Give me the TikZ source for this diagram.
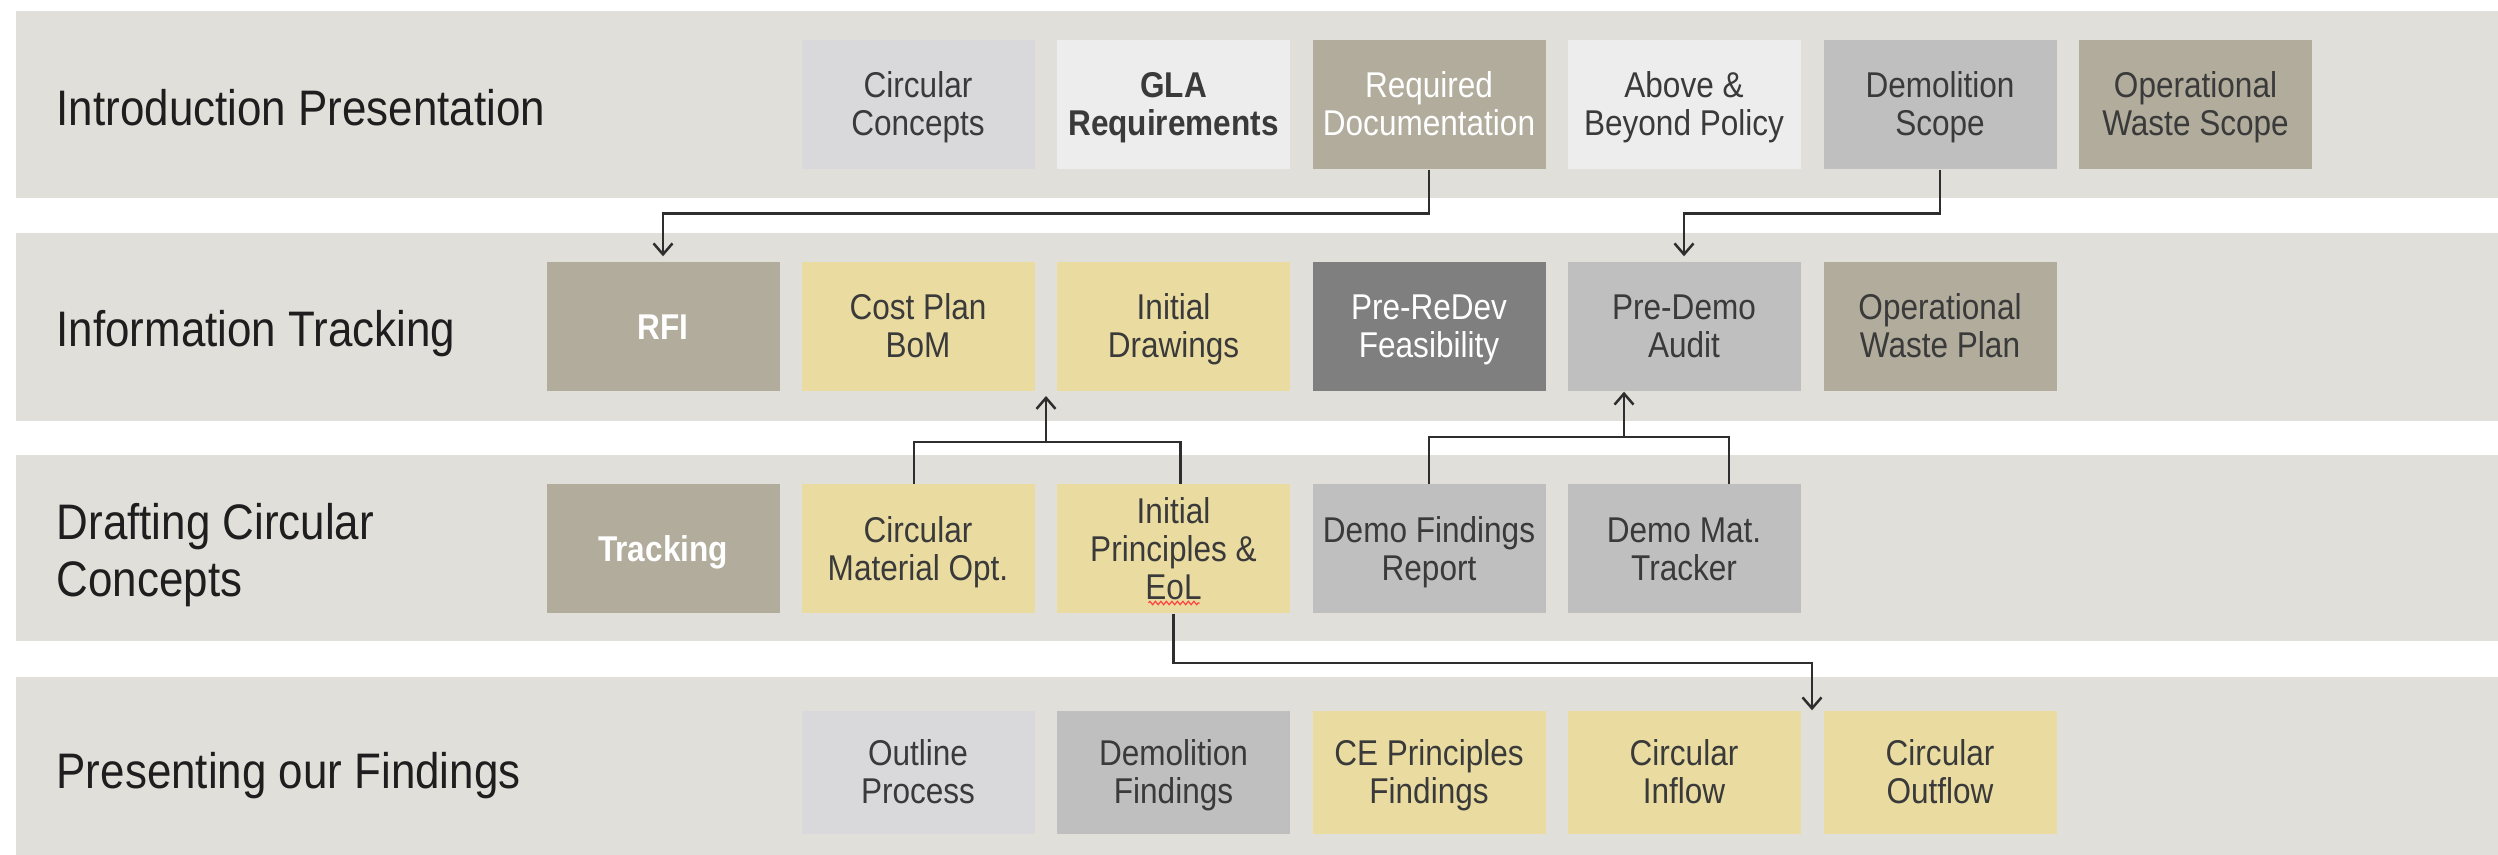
\documentclass[tikz,border=0pt]{standalone}
\usepackage{fontspec}
\setmainfont{Liberation Sans}[FakeStretch=0.88]
\usetikzlibrary{arrows.meta,decorations.pathmorphing,calc}

\definecolor{band}{HTML}{E0DFDA}
\definecolor{pale}{HTML}{D9D9DB}
\definecolor{offwhite}{HTML}{EDEDED}
\definecolor{taupe}{HTML}{B1AC9C}
\definecolor{midgrey}{HTML}{BFBFBF}
\definecolor{darkgrey}{HTML}{7F7F7F}
\definecolor{sand}{HTML}{EADCA1}
\definecolor{ink}{HTML}{3A3A3A}
\definecolor{labelink}{HTML}{1E1E1E}
\definecolor{wire}{HTML}{2E2E2E}

% card text: fixed line pitch; struts on the first and last lines
% centre each block on its capitals
\newcommand\cardfont{\fontsize{10.2pt}{10.8pt}\selectfont\lineskiplimit=-20pt\relax}
\newcommand\fl{\rule{0pt}{9.3pt}}
\newcommand\lowstrut{\rule[-2.2pt]{0pt}{2.2pt}}
\newcommand\singlestrut{\rule[-2.2pt]{0pt}{11.7pt}}

\tikzset{
  cardbase/.style={rectangle, inner sep=0pt, minimum width=23.3mm, minimum height=12.9mm,
    align=center, text=ink, font=\cardfont},
  card/.style={cardbase, execute at end node=\lowstrut},
  tagcard/.style={cardbase, font=\cardfont\bfseries, text=white,
    execute at end node=\singlestrut},
  boldcard/.style={card, font=\cardfont\bfseries},
  lowcard/.style={card, minimum height=12.3mm},
  lighttext/.style={text=white},
  rowlabel/.style={anchor=base west, inner sep=0pt, text=labelink,
    font=\fontsize{14.2pt}{16.2pt}\selectfont},
  wireline/.style={draw=wire, line width=0.25mm},
  arr/.style={wireline, -{Straight Barb[length=1.1mm,width=1.9mm]}},
}

\begin{document}
\begin{tikzpicture}[x=0.1mm, y=-0.1mm]
  \fill[white] (0,0) rectangle (2498,855);
  \useasboundingbox (0,0) rectangle (2498,855);

  % horizontal bands
  \fill[band] (16,11)  rectangle (2498,198);
  \fill[band] (16,233) rectangle (2498,421);
  \fill[band] (16,455) rectangle (2498,641);
  \fill[band] (16,677) rectangle (2498,855);

  % row titles
  \node[rowlabel] (t1) at (56,126) {Introduction Presentation};
  \node[rowlabel] (t2) at (56,347) {Information Tracking};
  \node[rowlabel, anchor=west, align=left] (t3) at (56,555) {Drafting Circular\\Concepts};
  \node[rowlabel] (t4) at (56,789) {Presenting our Findings};

  % row 1
  \node[card, fill=pale]     (cc)  at (918,104.5)  {\fl Circular\\Concepts};
  \node[boldcard, fill=offwhite] (gla) at (1173.5,104.5) {\fl GLA\\Requirements};
  \node[card, fill=taupe, lighttext] (rd) at (1429,104.5) {\fl Required\\Documentation};
  \node[card, fill=offwhite] (abp) at (1684,104.5)  {\fl Above \&\\Beyond Policy};
  \node[card, fill=midgrey]  (ds)  at (1940,104.5)  {\fl Demolition\\Scope};
  \node[card, fill=taupe]    (ows) at (2195.5,104.5) {\fl Operational\\Waste Scope};

  % row 2
  \node[tagcard, fill=taupe] (rfi) at (663,326.5) {RFI};
  \node[card, fill=sand]     (cpb) at (918,326.5)   {\fl Cost Plan\\BoM};
  \node[card, fill=sand]     (idr) at (1173.5,326.5) {\fl Initial\\Drawings};
  \node[card, fill=darkgrey, lighttext] (prf) at (1429,326.5) {\fl Pre-ReDev\\Feasibility};
  \node[card, fill=midgrey]  (pda) at (1684,326.5)  {\fl Pre-Demo\\Audit};
  \node[card, fill=taupe]    (owp) at (1940,326.5)  {\fl Operational\\Waste Plan};

  % row 3
  \node[tagcard, fill=taupe] (trk) at (663,549) {Tracking};
  \node[card, fill=sand]     (cmo) at (918,549)    {\fl Circular\\Material Opt.};
  \node[card, fill=sand]     (ipe) at (1173.5,549) {\fl Initial\\Principles \&\\EoL};
  \node[card, fill=midgrey]  (dfr) at (1429,549)   {\fl Demo Findings\\Report};
  \node[card, fill=midgrey]  (dmt) at (1684,549)   {\fl Demo Mat.\\Tracker};

  % row 4
  \node[lowcard, fill=pale]    (olp)  at (918,772.5)    {\fl Outline\\Process};
  \node[lowcard, fill=midgrey] (dmf)  at (1173.5,772.5) {\fl Demolition\\Findings};
  \node[lowcard, fill=sand]    (cep)  at (1429,772.5)   {\fl CE Principles\\Findings};
  \node[lowcard, fill=sand]    (cin)  at (1684,772.5)   {\fl Circular\\Inflow};
  \node[lowcard, fill=sand]    (cout) at (1940,772.5)   {\fl Circular\\Outflow};

  % spell-check underline beneath "EoL"
  \draw[red!75!white, line width=0.12mm, decorate,
        decoration={zigzag, segment length=0.55mm, amplitude=0.17mm}]
    ($(ipe.center)+(-25,54)$) -- ($(ipe.center)+(26,54)$);

  % connectors between the first two rows
  \draw[arr, shorten >=0.5mm] (rd.south) -- ++(0,44) -| (rfi.north);
  \draw[arr, shorten >=0.5mm] (ds.south) -- ++(0,44) -| (pda.north);

  % drafting items feeding the cost plan / drawings
  \coordinate (jc) at (1046,442);
  \coordinate (jctip) at (1046,396);
  \coordinate (cmoTop) at ($(cmo.north)+(-4,0)$);
  \coordinate (ipeTop) at ($(ipe.north)+(7,0)$);
  \draw[wireline] (cmoTop) |- (jc) -| (ipeTop);
  \draw[arr] (jc) -- (jctip);

  % demolition items feeding the pre-demo audit
  \coordinate (jd) at (1624,437);
  \coordinate (dmtTop) at ($(dmt.north)+(45,0)$);
  \draw[wireline] (dfr.north) |- (jd) -| (dmtTop);
  \draw[arr] (jd) -- (jd |- pda.south);

  % principles feeding the circular flows
  \coordinate (gapE) at ($(cin.north east)!0.5!(cout.north west)$);
  \draw[arr] (ipe.south) -- ++(0,49) -| (gapE);
\end{tikzpicture}
\end{document}
